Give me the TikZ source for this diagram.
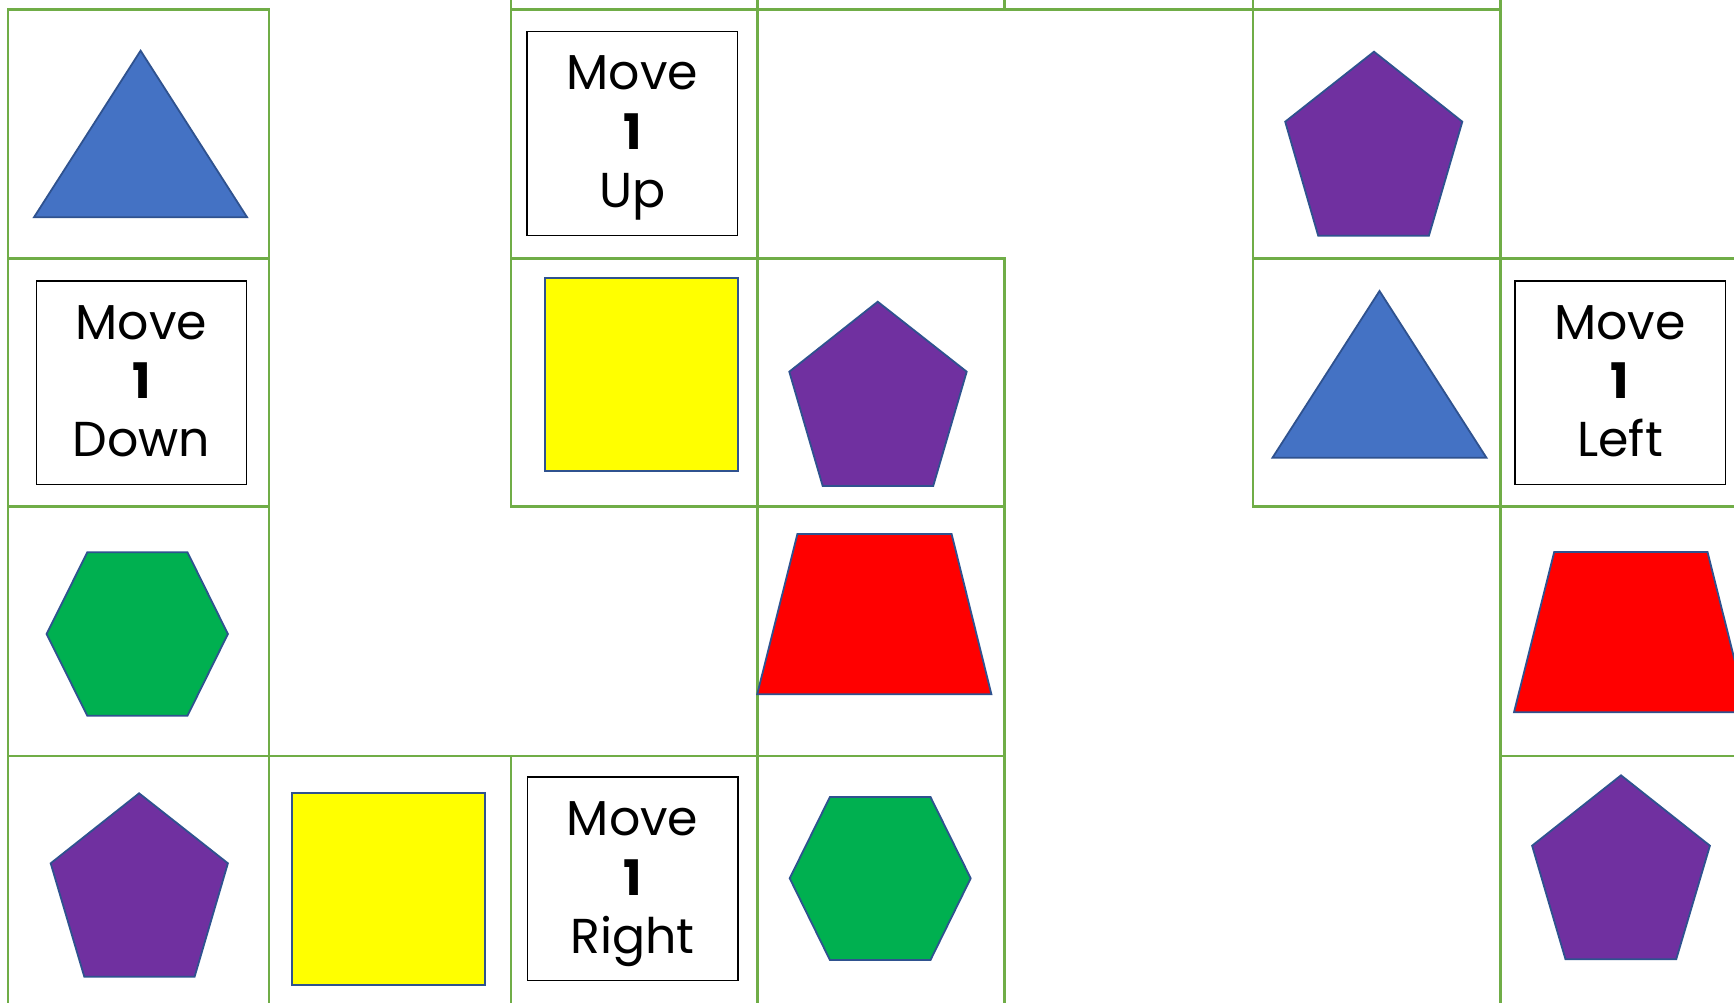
\documentclass[tikz,border=0pt]{standalone}
\usepackage{fontspec}
\setmainfont{Poppins}
\definecolor{gridgreen}{HTML}{70AD47}
\definecolor{edgeblue}{HTML}{2F528F}
\definecolor{triblue}{HTML}{4472C4}
\definecolor{pentpurple}{HTML}{7030A0}
\definecolor{hexgreen}{HTML}{00B050}
\definecolor{sqyellow}{HTML}{FFFF00}
\definecolor{trapred}{HTML}{FF0000}
\begin{document}
\begin{tikzpicture}[x=1pt,y=-1pt,
  cell/.style={draw=gridgreen, line width=2.7pt},
  figure/.style={draw=edgeblue, line width=1.8pt, line join=miter},
  card/.style={draw=black, line width=1.3pt, fill=white, minimum width=210.4pt,
    minimum height=203.5pt, inner sep=0pt, outer sep=0pt, anchor=north west},
  cardtxt/.style={anchor=base, inner sep=0pt, font=\fontsize{49}{58}\selectfont}]
\useasboundingbox (0,0) rectangle (1734,1003);
\fill[white] (0,0) rectangle (1734,1003);
\clip (0,0) rectangle (1734,1003);
% ---- grid cells ----
% row -1 (cut off)
\draw[cell] (511,-240) rectangle (757.5,9.3);
\draw[cell] (757.5,-240) rectangle (1004.3,9.3);
\draw[cell] (1004.3,-240) rectangle (1253,9.3);
\draw[cell] (1253,-240) rectangle (1500.5,9.3);
% row 0
\draw[cell] (8,9.3) rectangle (269,258.3);
\draw[cell] (511,9.3) rectangle (757.5,258.3);
\draw[cell] (1253,9.3) rectangle (1500.5,258.3);
% row 1
\draw[cell] (8,258.3) rectangle (269,506.7);
\draw[cell] (511,258.3) rectangle (757.5,506.7);
\draw[cell] (757.5,258.3) rectangle (1004.3,506.7);
\draw[cell] (1253,258.3) rectangle (1500.5,506.7);
\draw[cell] (1500.5,258.3) rectangle (1760,506.7);
% row 2
\draw[cell] (8,506.7) rectangle (269,756);
\draw[cell] (757.5,506.7) rectangle (1004.3,756);
\draw[cell] (1500.5,506.7) rectangle (1760,756);
% row 3
\draw[cell] (8,756) rectangle (269,1020);
\draw[cell] (269,756) rectangle (511,1020);
\draw[cell] (511,756) rectangle (757.5,1020);
\draw[cell] (757.5,756) rectangle (1004.3,1020);
\draw[cell] (1500.5,756) rectangle (1760,1020);
% ---- shapes ----
% triangles
\draw[figure, fill=triblue] (140.6,50.7) -- (247.1,217.3) -- (34,217.3) -- cycle;
\draw[figure, fill=triblue] (1379.5,291) -- (1486.4,457.7) -- (1272.5,457.7) -- cycle;
% pentagons
\draw[figure, fill=pentpurple] (877.7,301.7) -- (966.7,371.7) -- (933.2,486) -- (822.7,486) -- (789.3,371.7) -- cycle;
\draw[figure, fill=pentpurple] (1374,51.7) -- (1462.3,121.7) -- (1428.9,235.7) -- (1318.2,235.7) -- (1285.2,121.7) -- cycle;
\draw[figure, fill=pentpurple] (139.1,793.3) -- (227.9,863.3) -- (194.6,976.7) -- (84.3,976.7) -- (50.7,863.3) -- cycle;
\draw[figure, fill=pentpurple] (1621,775.3) -- (1709.9,845.7) -- (1676.2,959.3) -- (1565.5,959.3) -- (1532.1,845.7) -- cycle;
% hexagons
\draw[figure, fill=hexgreen] (87.3,552.3) -- (187.5,552.3) -- (227.9,634) -- (187.5,715.7) -- (87.3,715.7) -- (46.6,634) -- cycle;
\draw[figure, fill=hexgreen] (829.9,797) -- (930.5,797) -- (970.7,878.3) -- (930.5,960) -- (829.9,960) -- (789.7,878.3) -- cycle;
% squares
\draw[figure, fill=sqyellow] (545,278) rectangle (737.7,471);
\draw[figure, fill=sqyellow] (292.2,792.7) rectangle (485,985);
% trapezoids
\draw[figure, fill=trapred] (797.4,534) -- (951.6,534) -- (991.4,694.3) -- (757.2,694.3) -- cycle;
\draw[figure, fill=trapred] (1554.2,552) -- (1707.5,552) -- (1747.7,712.3) -- (1514,712.3) -- cycle;
% ---- cards ----
\node[card] (cardUp) at (527,31.7) {};
\node[cardtxt] (cardUpA) at (632.3,89.5) {Move};
\node[cardtxt] (cardUpB) at (632.3,149.2) {\bfseries 1};
\node[cardtxt] (cardUpC) at (632.3,207.5) {Up};
\node[card] (cardDown) at (36.3,281) {};
\node[cardtxt] (cardDownA) at (141.5,339.3) {Move};
\node[cardtxt] (cardDownB) at (141.5,398.5) {\bfseries 1};
\node[cardtxt] (cardDownC) at (141.5,456.8) {Down};
\node[card] (cardLeft) at (1515,281) {};
\node[cardtxt] (cardLeftA) at (1620.1,339.3) {Move};
\node[cardtxt] (cardLeftB) at (1620.1,398.5) {\bfseries 1};
\node[cardtxt] (cardLeftC) at (1620.1,456.8) {Left};
\node[card] (cardRight) at (527.6,777) {};
\node[cardtxt] (cardRightA) at (632.6,835.7) {Move};
\node[cardtxt] (cardRightB) at (632.6,895) {\bfseries 1};
\node[cardtxt] (cardRightC) at (632.6,953.3) {Right};
\end{tikzpicture}
\end{document}
